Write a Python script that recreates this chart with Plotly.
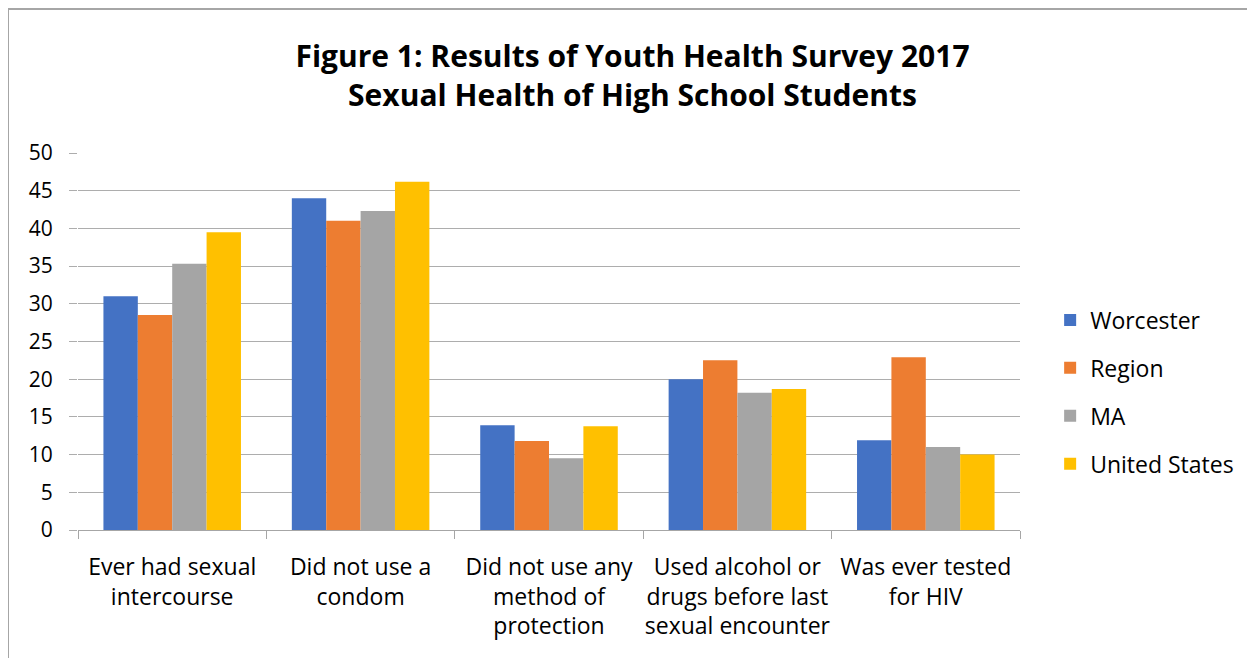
import plotly.graph_objects as go

categories = [
    "Ever had sexual<br>intercourse",
    "Did not use a<br>condom",
    "Did not use any<br>method of<br>protection",
    "Used alcohol or<br>drugs before last<br>sexual encounter",
    "Was ever tested<br>for HIV",
]
series_names = ["Worcester", "Region", "MA", "United States"]
worcester = [31.0, 44.0, 13.9, 20.0, 11.9]
region = [28.5, 41.0, 11.8, 22.5, 22.9]
ma = [35.3, 42.3, 9.5, 18.2, 11.0]
united_states = [39.5, 46.2, 13.75, 18.7, 10.0]
y_ticks = [0, 5, 10, 15, 20, 25, 30, 35, 40, 45, 50]

colors = ["#4472C4", "#ED7D31", "#A5A5A5", "#FFC000"]
values = [worcester, region, ma, united_states]

FONT = "'Open Sans', Lato, sans-serif"

fig = go.Figure()
for name, vals, col in zip(series_names, values, colors):
    fig.add_trace(go.Bar(
        x=categories, y=vals, name=name, marker_color=col,
        marker_line_width=0, legendgroup=name,
    ))

# page shows the figure offset by ~8px, so positions are shifted accordingly
OFF = 8
W, H = 1255, 658
L, T = 78 - OFF, 153 - OFF
R = W - (1020 - OFF)
B = H - (530 - OFF)
pw = W - L - R
ph = H - T - B

def px_x(p):
    return (p - OFF - L) / pw

def px_y(p):
    return (H - B - (p - OFF)) / ph

fig.update_layout(
    width=W, height=H,
    margin=dict(l=L, r=R, t=T, b=B, autoexpand=False),
    paper_bgcolor="white", plot_bgcolor="white",
    barmode="group", bargap=0.27, bargroupgap=0,
    font=dict(family=FONT, size=21, color="#000000"),
    title=dict(
        text="<b>Figure 1: Results of Youth Health Survey 2017<br>Sexual Health of High School Students</b>",
        x=0.4976, xanchor="center", y=0.9096, yanchor="middle",
        font=dict(family=FONT, size=30, color="#000000"),
    ),
    legend=dict(
        x=1.032, xanchor="left", y=0.366, yanchor="middle",
        font=dict(family=FONT, size=23, color="#000000"),
        traceorder="grouped", tracegroupgap=15,
        itemwidth=30,
    ),
    xaxis=dict(
        type="category", tickson="boundaries", ticks="outside", ticklen=8,
        tickcolor="#A6A6A6", showline=True, linecolor="#A6A6A6", linewidth=1,
        showgrid=False, tickfont=dict(size=23), ticklabelstandoff=16,
        tickangle=0, automargin=False,
    ),
    yaxis=dict(
        range=[0, 50], tickvals=y_ticks, showgrid=True, gridcolor="#ADADAD",
        gridwidth=1, zeroline=False, showline=False, ticks="outside",
        ticklen=8, tickcolor="#ADADAD", tickfont=dict(size=21),
        ticklabelstandoff=12, automargin=False,
    ),
    shapes=[
        dict(type="line", xref="paper", yref="paper",
             x0=px_x(8), x1=px_x(8), y0=px_y(9), y1=px_y(H + 20),
             line=dict(color="#A6A6A6", width=2)),
        dict(type="line", xref="paper", yref="paper",
             x0=px_x(8), x1=px_x(W + 20), y0=px_y(9), y1=px_y(9),
             line=dict(color="#A6A6A6", width=2)),
    ],
)

fig.write_html("out.html")
